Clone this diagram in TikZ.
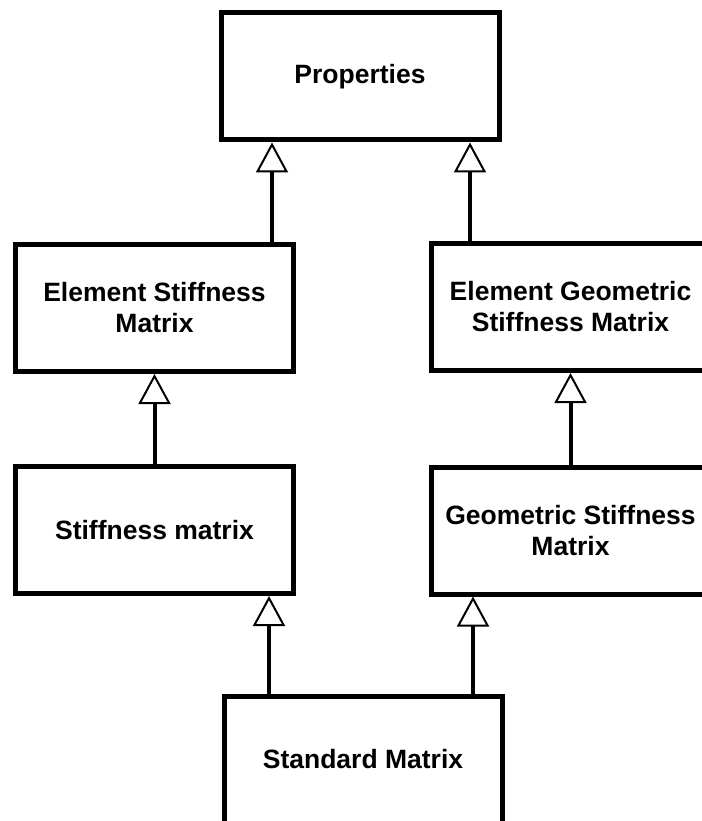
\documentclass[tikz,border=0pt]{standalone}
\usepackage{fontspec}
\setmainfont{Liberation Sans}
\usetikzlibrary{arrows.meta}
\begin{document}
\begin{tikzpicture}[x=1pt,y=-1pt,
  classbox/.style={draw=black, fill=white, line width=5pt, minimum width=278pt,
    minimum height=127pt, inner sep=0pt, align=center,
    font=\fontsize{26.5}{31}\selectfont\bfseries},
  inherit/.style={line width=4pt,
    -{Triangle[open, length=30pt, width=32pt, line width=2pt]}}]
  \useasboundingbox (0,0) rectangle (701,821);

  % class boxes
  \node[classbox] (prop) at (360,76.5) {Properties};
  \node[classbox] (elstiff) at (154.5,308) {Element Stiffness\\Matrix};
  \node[classbox] (elgeo) at (570.5,307) {Element Geometric\\Stiffness Matrix};
  \node[classbox] (stiff) at (154.5,530) {Stiffness matrix};
  \node[classbox] (geo) at (570.5,530.5) {Geometric Stiffness\\Matrix};
  \node[classbox] (std) at (363,759.5) {Standard Matrix};

  % connector columns
  \coordinate (colA) at (272,0);
  \coordinate (colB) at (470,0);
  \coordinate (colC) at (269,0);
  \coordinate (colD) at (473,0);

  % generalisation arrows
  \draw[inherit] (elstiff.north -| colA) -- (prop.south -| colA);
  \draw[inherit] (elgeo.north -| colB) -- (prop.south -| colB);
  \draw[inherit] (stiff.north) -- (elstiff.south);
  \draw[inherit] (geo.north) -- (elgeo.south);
  \draw[inherit] (std.north -| colC) -- (stiff.south -| colC);
  \draw[inherit] (std.north -| colD) -- (geo.south -| colD);
\end{tikzpicture}
\end{document}
